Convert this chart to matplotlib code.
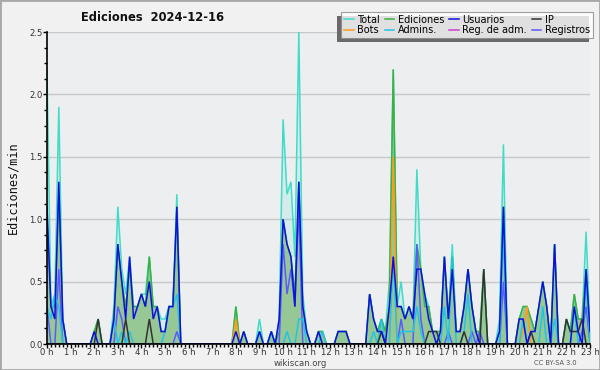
import numpy as np
import matplotlib
matplotlib.use("Agg")
import matplotlib.pyplot as plt
from matplotlib.patches import Rectangle
from matplotlib.transforms import IdentityTransform
from matplotlib.ticker import MultipleLocator


# ============================================================
# DATA  (edits per minute, one value per 10-minute slot, 00:00 -> 23:00)
# ============================================================

TITLE = "Ediciones  2024-12-16"
HOUR_LABELS = [f"{h} h" for h in range(24)]

TOTAL = [
    2.2, 0.3, 0.4, 1.9, 0.2, 0, 0, 0, 0, 0, 0, 0,
    0.1, 0.2, 0, 0, 0, 0.3, 1.1, 0.6, 0.4, 0.7, 0.3, 0.3,
    0.4, 0.4, 0.7, 0.3, 0.3, 0.2, 0.2, 0.3, 0.3, 1.2, 0, 0,
    0, 0, 0, 0, 0, 0, 0, 0, 0, 0, 0, 0,
    0.3, 0, 0.1, 0, 0, 0, 0.2, 0, 0, 0.1, 0, 0.2,
    1.8, 1.2, 1.3, 0.7, 2.5, 0.4, 0.1, 0, 0, 0.1, 0.1, 0,
    0, 0, 0.1, 0.1, 0.1, 0, 0, 0, 0, 0, 0.4, 0.2,
    0.1, 0.2, 0.1, 0.5, 2.2, 0.3, 0.5, 0.2, 0.3, 0.2, 1.4, 0.6,
    0.4, 0.3, 0.1, 0.1, 0.1, 0.7, 0.2, 0.8, 0.1, 0.1, 0.3, 0.6,
    0.3, 0.1, 0.1, 0.6, 0, 0, 0, 0.2, 1.6, 0, 0, 0,
    0.2, 0.3, 0.3, 0.2, 0.1, 0.3, 0.5, 0.3, 0, 0.8, 0, 0,
    0.2, 0.1, 0.4, 0.2, 0.2, 0.9, 0.1,
]

EDICIONES = [
    1.0, 0.3, 0.3, 1.2, 0.2, 0, 0, 0, 0, 0, 0, 0,
    0.1, 0.2, 0, 0, 0, 0.2, 0.8, 0.5, 0.3, 0.6, 0.3, 0.3,
    0.4, 0.3, 0.7, 0.3, 0.3, 0.1, 0.1, 0.3, 0.3, 1.1, 0, 0,
    0, 0, 0, 0, 0, 0, 0, 0, 0, 0, 0, 0,
    0.3, 0, 0.1, 0, 0, 0, 0.1, 0, 0, 0.1, 0, 0.1,
    1.0, 0.8, 0.7, 0.4, 1.3, 0.3, 0.1, 0, 0, 0.1, 0.1, 0,
    0, 0, 0.1, 0.1, 0.1, 0, 0, 0, 0, 0, 0.4, 0.2,
    0.1, 0.2, 0.1, 0.3, 2.2, 0.3, 0.3, 0.2, 0.3, 0.2, 0.8, 0.6,
    0.3, 0.3, 0.1, 0.1, 0.1, 0.7, 0.2, 0.7, 0.1, 0.1, 0.3, 0.6,
    0.3, 0.1, 0.1, 0.6, 0, 0, 0, 0.1, 1.1, 0, 0, 0,
    0.2, 0.3, 0.3, 0.2, 0.1, 0.3, 0.5, 0.3, 0, 0.8, 0, 0,
    0.2, 0.1, 0.4, 0.2, 0.2, 0.6, 0.1,
]

USUARIOS = [
    1.1, 0.3, 0.2, 1.3, 0.2, 0, 0, 0, 0, 0, 0, 0,
    0.1, 0, 0, 0, 0, 0.2, 0.8, 0.5, 0.2, 0.7, 0.2, 0.3,
    0.4, 0.3, 0.5, 0.2, 0.3, 0.1, 0.1, 0.3, 0.3, 1.1, 0, 0,
    0, 0, 0, 0, 0, 0, 0, 0, 0, 0, 0, 0,
    0.1, 0, 0.1, 0, 0, 0, 0.1, 0, 0, 0.1, 0, 0.2,
    1.0, 0.8, 0.7, 0.3, 1.3, 0.3, 0.1, 0, 0, 0.1, 0, 0,
    0, 0, 0.1, 0.1, 0.1, 0, 0, 0, 0, 0, 0.4, 0.2,
    0.1, 0.1, 0, 0.3, 0.7, 0.3, 0.3, 0.2, 0.3, 0.2, 0.6, 0.6,
    0.4, 0.2, 0.1, 0, 0.1, 0.7, 0.2, 0.6, 0.1, 0.1, 0.3, 0.6,
    0.3, 0.1, 0, 0, 0, 0, 0, 0.1, 1.1, 0, 0, 0,
    0.2, 0.2, 0, 0.1, 0.1, 0.3, 0.5, 0.3, 0, 0.8, 0, 0,
    0, 0, 0.3, 0.1, 0, 0.6, 0.1,
]

IP = [
    0, 0, 0, 0, 0, 0, 0, 0, 0, 0, 0, 0,
    0, 0.2, 0, 0, 0, 0, 0, 0, 0.2, 0, 0, 0,
    0, 0, 0.2, 0, 0, 0, 0, 0, 0, 0, 0, 0,
    0, 0, 0, 0, 0, 0, 0, 0, 0, 0, 0, 0,
    0, 0, 0, 0, 0, 0, 0, 0, 0, 0, 0, 0,
    0, 0, 0, 0, 0, 0, 0, 0, 0, 0, 0, 0,
    0, 0, 0, 0, 0, 0, 0, 0, 0, 0, 0, 0,
    0, 0.1, 0, 0, 0, 0, 0, 0, 0, 0, 0, 0,
    0, 0.1, 0.1, 0.1, 0, 0, 0, 0, 0, 0, 0.1, 0,
    0, 0, 0, 0.6, 0, 0, 0, 0, 0, 0, 0, 0,
    0, 0, 0, 0.1, 0, 0, 0, 0, 0, 0, 0, 0,
    0.2, 0.1, 0.1, 0.1, 0.2, 0, 0,
]

BOTS = [
    0, 0, 0, 0, 0, 0, 0, 0, 0, 0, 0, 0,
    0, 0, 0, 0, 0, 0, 0, 0, 0, 0, 0, 0,
    0, 0, 0, 0, 0, 0, 0, 0, 0, 0, 0, 0,
    0, 0, 0, 0, 0, 0, 0, 0, 0, 0, 0, 0,
    0.2, 0, 0, 0, 0, 0, 0, 0, 0, 0, 0, 0,
    0, 0, 0, 0, 0, 0, 0, 0, 0, 0, 0, 0,
    0, 0, 0, 0, 0, 0, 0, 0, 0, 0, 0, 0,
    0, 0, 0, 0, 1.5, 0, 0, 0, 0, 0, 0, 0,
    0, 0, 0, 0, 0, 0, 0, 0, 0, 0, 0, 0,
    0, 0, 0, 0, 0, 0, 0, 0, 0, 0, 0, 0,
    0, 0.1, 0.3, 0, 0, 0, 0, 0, 0, 0, 0, 0,
    0, 0, 0, 0, 0, 0, 0,
]

ADMINS = [
    0.3, 0.2, 0.4, 0.3, 0, 0, 0, 0, 0, 0, 0, 0,
    0, 0, 0, 0, 0, 0.2, 0, 0.1, 0, 0.1, 0, 0,
    0, 0, 0, 0, 0, 0, 0.1, 0.3, 0.3, 0.4, 0, 0,
    0, 0, 0, 0, 0, 0, 0, 0, 0, 0, 0, 0,
    0, 0, 0, 0, 0, 0, 0.1, 0, 0, 0.1, 0, 0,
    0, 0.1, 0, 0, 0.2, 0.2, 0, 0, 0, 0, 0.1, 0,
    0, 0, 0, 0, 0, 0, 0, 0, 0, 0, 0, 0.1,
    0, 0.2, 0, 0, 0.7, 0, 0.1, 0.1, 0.1, 0.1, 0.3, 0.1,
    0, 0, 0, 0, 0, 0.3, 0, 0.7, 0, 0, 0.1, 0.4,
    0, 0, 0, 0, 0, 0, 0, 0, 0.9, 0, 0, 0,
    0, 0.2, 0, 0, 0, 0, 0.3, 0, 0, 0.2, 0, 0,
    0, 0, 0.3, 0, 0, 0.5, 0,
]

REG_ADM = [0] * len(TOTAL)

REGISTROS = [
    0.3, 0, 0, 0.6, 0, 0, 0, 0, 0, 0, 0, 0,
    0, 0, 0, 0, 0, 0, 0.3, 0.2, 0, 0, 0, 0,
    0, 0, 0, 0, 0, 0, 0, 0, 0, 0.1, 0, 0,
    0, 0, 0, 0, 0, 0, 0, 0, 0, 0, 0, 0,
    0, 0, 0, 0, 0, 0, 0, 0, 0, 0, 0, 0,
    0.8, 0.4, 0.6, 0.3, 1.1, 0, 0, 0, 0, 0, 0, 0,
    0, 0, 0, 0, 0, 0, 0, 0, 0, 0, 0, 0,
    0, 0, 0, 0, 0, 0, 0.2, 0, 0, 0, 0.8, 0.2,
    0, 0, 0, 0, 0, 0, 0.1, 0, 0, 0, 0, 0,
    0.1, 0, 0.1, 0, 0, 0, 0, 0, 0.5, 0, 0, 0,
    0, 0, 0, 0, 0, 0, 0, 0, 0, 0, 0, 0,
    0, 0, 0, 0, 0.1, 0.3, 0,
]

# legend order (column-major, 4 columns x 2 rows)
LEGEND_ORDER = ["Total", "Bots", "Ediciones", "Admins.",
                "Usuarios", "Reg. de adm.", "IP", "Registros"]

COLORS = {
    "Total": "#40dcc8",
    "Ediciones": "#3cb043",
    "Usuarios": "#1010dd",
    "IP": "#333333",
    "Bots": "#ff9a1a",
    "Admins.": "#22c4e4",
    "Reg. de adm.": "#d040d0",
    "Registros": "#5a5aff",
}

FIG_BG = "#f1f1f1"
AX_BG = "#edeef0"


# ============================================================
# PLOTTING
# ============================================================

def main():
    x = np.arange(len(TOTAL)) / 6.0

    fig = plt.figure(figsize=(6.0, 3.7), dpi=100, facecolor=FIG_BG)
    ax = fig.add_axes([47 / 600, 1 - 344 / 370, (590 - 47) / 600, (344 - 32) / 370])
    ax.set_facecolor(AX_BG)

    ax.fill_between(x, 0, TOTAL, color="#40e0d0", alpha=0.15, linewidth=0, zorder=1)
    ax.fill_between(x, 0, EDICIONES, color="#96c896", linewidth=0, zorder=1.1)

    series = {
        "Total": (TOTAL, 2.0),
        "Ediciones": (EDICIONES, 2.1),
        "Bots": (BOTS, 2.2),
        "Reg. de adm.": (REG_ADM, 2.25),
        "Registros": (REGISTROS, 2.3),
        "Admins.": (ADMINS, 2.4),
        "IP": (IP, 2.5),
        "Usuarios": (USUARIOS, 2.6),
    }
    handles = {}
    for name, (values, z) in series.items():
        line, = ax.plot(x, values, color=COLORS[name], linewidth=1.1, zorder=z,
                        label=name, solid_joinstyle="miter")
        handles[name] = line

    ax.set_xlim(0, 23.0)
    ax.set_ylim(0, 2.5)

    ax.set_xticks(np.arange(24))
    ax.set_xticklabels(HOUR_LABELS)
    ax.xaxis.set_minor_locator(MultipleLocator(1 / 6))
    ax.yaxis.set_major_locator(MultipleLocator(0.5))
    ax.yaxis.set_minor_locator(MultipleLocator(0.125))
    ax.yaxis.set_major_formatter(lambda v, pos: f"{v:.1f}")

    ax.tick_params(axis="both", which="major", length=2.8, width=1, color="black",
                   labelsize=6.1, labelcolor="#333333", pad=0.4)
    ax.tick_params(axis="both", which="minor", length=2.2, width=1, color="black")

    for side in ("top", "right"):
        ax.spines[side].set_visible(False)
    for side in ("left", "bottom"):
        ax.spines[side].set_linewidth(1.2)
        ax.spines[side].set_zorder(5)

    ax.grid(True, axis="y", which="major", color="#c8c8c8", linewidth=1, zorder=0)
    ax.set_axisbelow(True)

    ax.set_ylabel("Ediciones/min", family="DejaVu Sans Mono", fontsize=8.5,
                  color="#111111", labelpad=7)

    fig.text(0.255, 0.952, TITLE, ha="center", va="center",
             fontsize=8.3, fontweight="bold", color="#111111")
    fig.text(0.5, 0.017, "wikiscan.org", ha="center", va="center",
             fontsize=6.1, color="#444444")
    fig.text(0.925, 0.018, "CC BY-SA 3.0", ha="center", va="center",
             fontsize=4.8, color="#555555")

    legend = fig.legend(
        [handles[n] for n in LEGEND_ORDER], LEGEND_ORDER,
        ncol=4, loc="upper right", bbox_to_anchor=(0.988, 0.968),
        fontsize=7.0, frameon=True, fancybox=False, shadow=False,
        handlelength=1.0, handletextpad=0.35, columnspacing=0.5,
        labelspacing=0.05, borderpad=0.3, borderaxespad=0,
    )
    legend.get_frame().set_facecolor("white")
    legend.get_frame().set_edgecolor("#888888")
    legend.get_frame().set_linewidth(0.8)
    legend.set_zorder(10)

    fig.canvas.draw()
    box = legend.get_window_extent()
    shadow = Rectangle((box.x0 - 4, box.y0 - 4), box.width, box.height,
                       transform=IdentityTransform(), facecolor="#6a6a6a",
                       edgecolor="none", zorder=9)
    fig.add_artist(shadow)

    border = Rectangle((0, 0), 1, 1, transform=fig.transFigure, fill=False,
                       edgecolor="#a8a8a8", linewidth=2, zorder=20)
    fig.add_artist(border)

    fig.savefig("out.png", dpi=100, facecolor=FIG_BG)


if __name__ == "__main__":
    main()
